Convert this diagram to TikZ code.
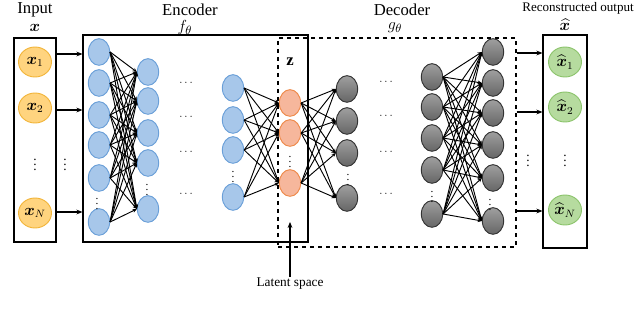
\documentclass[tikz,border=0pt]{standalone}
\usepackage{amsmath}
\usepackage{bm}
\usepackage{fontspec}
\setmainfont{Liberation Serif}
\usetikzlibrary{shapes.geometric,arrows.meta,fit}
\definecolor{yfill}{HTML}{FFD47F}
\definecolor{ydraw}{HTML}{F2B53A}
\definecolor{bfill}{HTML}{A7C7EA}
\definecolor{bdraw}{HTML}{6A9FD8}
\definecolor{ofill}{HTML}{F6B79C}
\definecolor{odraw}{HTML}{EE8A4A}
\definecolor{gfill}{HTML}{B6DB9F}
\definecolor{gdraw}{HTML}{8CC46C}
\definecolor{kfill}{HTML}{7F7F7F}
\definecolor{kdraw}{HTML}{333333}
\begin{document}
\begin{tikzpicture}[x=0.75pt,y=-0.75pt,
  neu/.style={ellipse, inner sep=0pt, minimum width=16pt, minimum height=20pt, line width=0.7pt},
  bneu/.style={neu, fill=bfill, draw=bdraw},
  oneu/.style={neu, fill=ofill, draw=odraw},
  kneu/.style={neu, top color=kfill!75!white, bottom color=kfill!80!black, draw=kdraw},
  io/.style={ellipse, inner sep=0pt, minimum width=24.75pt, minimum height=22.5pt, line width=0.7pt, font=\fontsize{12}{12}\selectfont},
  yneu/.style={io, fill=yfill, draw=ydraw},
  gneu/.style={io, fill=gfill, draw=gdraw},
  conn/.style={-{Stealth[length=3.2pt,width=2.8pt]}, line width=0.7pt},
  arr/.style={-{Stealth[length=4.5pt,width=3.6pt]}, line width=0.8pt},
  box/.style={draw, line width=0.9pt, inner sep=0pt},
  vd/.style={inner sep=0pt, font=\fontsize{8.5}{8.5}\selectfont\boldmath},
  hd/.style={inner sep=0pt, font=\fontsize{8.5}{8.5}\selectfont},
  lab/.style={inner sep=1pt, font=\fontsize{12.5}{14}\selectfont},
]
\useasboundingbox (0,0) rectangle (640,323);

% boxes
\node[box, fit={(14,38) (56,242)}] (inbox) {};
\node[box, fit={(83,35) (308,242)}] (enc) {};
\node[box, dashed, fit={(278,38) (516,247)}] (dec) {};
\node[box, fit={(543,35) (587,248)}] (outbox) {};

% labels
\node[lab] (tin) at (35,10) {Input};
\node[lab] (tx) at (35,28) {$\boldsymbol{x}$};
\node[lab] (tenc) at (190,10) {Encoder};
\node[lab] (tf) at (185,28) {$f_{\theta}$};
\node[lab] (tdec) at (402,10) {Decoder};
\node[lab] (tg) at (395,28) {$g_{\theta}$};
\node[inner sep=1pt, font=\fontsize{9.8}{11}\selectfont] (trec) at (578,8) {Reconstructed output};
\node[lab] (txh) at (565,25) {$\widehat{\boldsymbol{x}}$};
\node[lab] (tz) at (290,62) {$\mathbf{z}$};
\node[inner sep=1pt, font=\fontsize{10}{12}\selectfont] (tlat) at (290,284) {Latent space};

% input / output nodes
\node[yneu] (x1) at (35,62) {$\boldsymbol{x}_1$};
\node[yneu] (x2) at (35,108) {$\boldsymbol{x}_2$};
\node[vd, font=\fontsize{10}{10}\selectfont\boldmath] (xd) at (35,161) {$\vdots$};
\node[yneu] (xN) at (35,213) {$\boldsymbol{x}_N$};
\node[vd, font=\fontsize{10}{10}\selectfont\boldmath] (xd2) at (65,161) {$\vdots$};

\node[gneu] (y1) at (565,62) {$\widehat{\boldsymbol{x}}_1$};
\node[gneu] (y2) at (565,107) {$\widehat{\boldsymbol{x}}_2$};
\node[vd, font=\fontsize{10}{10}\selectfont\boldmath] (yd) at (565,157) {$\vdots$};
\node[gneu] (yN) at (565,210) {$\widehat{\boldsymbol{x}}_N$};
\node[vd, font=\fontsize{10}{10}\selectfont\boldmath] (yd2) at (528,157) {$\vdots$};

% layers
\foreach \y [count=\i] in {52,83,115,145,178,222} \node[bneu] (ea-\i) at (99,\y) {};
\foreach \y [count=\i] in {72,101,133,163,209} \node[bneu] (eb-\i) at (148,\y) {};
\foreach \y [count=\i] in {88,120,150,197} \node[bneu] (ec-\i) at (233,\y) {};
\foreach \y [count=\i] in {103,133,183} \node[oneu] (z-\i) at (290,\y) {};
\foreach \y [count=\i] in {89,121,153,198} \node[kneu] (da-\i) at (347,\y) {};
\foreach \y [count=\i] in {77,107,138,170,214} \node[kneu] (db-\i) at (432,\y) {};
\foreach \y [count=\i] in {52,83,113,145,178,221} \node[kneu] (dc-\i) at (493,\y) {};

% vertical dots in layers
\node[vd] (vea) at (97,200) {$\vdots$};
\node[vd] (veb) at (147,186) {$\vdots$};
\node[vd] (vec) at (233,173) {$\vdots$};
\node[vd] (vz) at (290,158) {$\vdots$};
\node[vd] (vda) at (348,176) {$\vdots$};
\node[vd] (vdb) at (432,193) {$\vdots$};
\node[vd] (vdc) at (490,201) {$\vdots$};

% horizontal dots
\foreach \y [count=\i] in {83,117,152,194} \node[hd] (he-\i) at (187,\y) {$\cdots$};
\foreach \y [count=\i] in {82,116,152,194} \node[hd] (hd-\i) at (387,\y) {$\cdots$};

% connections
\foreach \i in {1,...,6} \foreach \j in {1,...,5} \draw[conn] (ea-\i.east) -- (eb-\j.west);
\foreach \i in {1,...,4} \foreach \j in {1,...,3} \draw[conn] (ec-\i.east) -- (z-\j.west);
\foreach \i in {1,...,3} \foreach \j in {1,...,4} \draw[conn] (z-\i.east) -- (da-\j.west);
\foreach \i in {1,...,5} \foreach \j in {1,...,6} \draw[conn] (db-\i.east) -- (dc-\j.west);

% input / output arrows
\foreach \y in {54,110,212} \draw[arr] (inbox.east |- 0,\y) -- (enc.west |- 0,\y);
\foreach \y in {53,112,211} \draw[arr] (dec.east |- 0,\y) -- (outbox.west |- 0,\y);

% latent arrow
\coordinate (lt) at (290,222);
\draw[arr] (tlat.north) -- (lt);
\end{tikzpicture}
\end{document}
